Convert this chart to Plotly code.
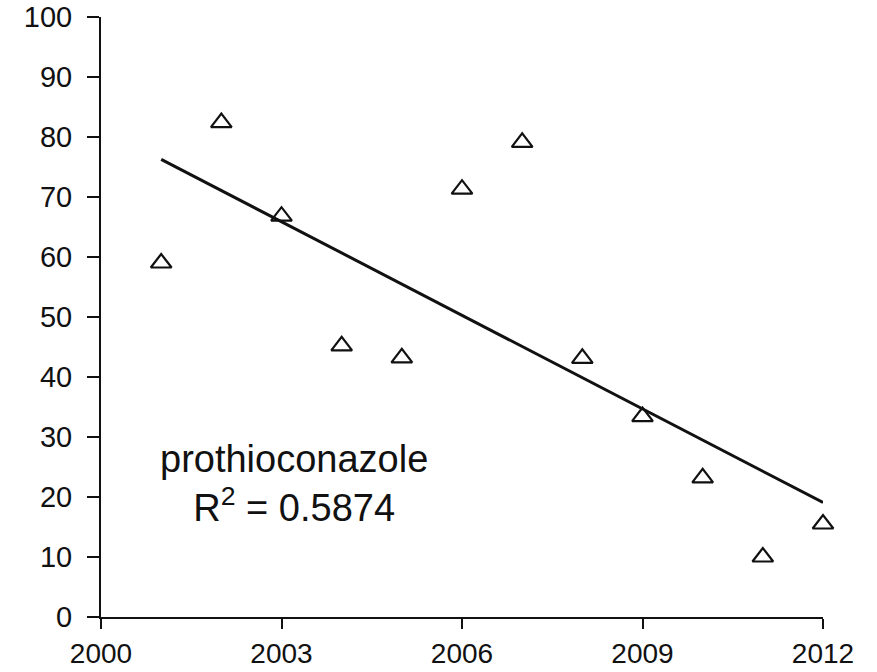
import numpy as np
import plotly.graph_objects as go

years = [2001, 2002, 2003, 2004, 2005, 2006, 2007, 2008, 2009, 2010, 2011, 2012]
values = [59.0, 82.4, 66.8, 45.2, 43.2, 71.3, 79.1, 43.1, 33.4, 23.2, 10.0, 15.5]
x_ticks = [2000, 2003, 2006, 2009, 2012]
y_ticks = list(range(0, 101, 10))
label_name = "prothioconazole"
r2_text = "R<sup>2</sup> = 0.5874"

slope, intercept = np.polyfit(years, values, 1)
fit_x = [years[0], years[-1]]
fit_y = [slope * x + intercept for x in fit_x]

font_family = "Liberation Sans, Arial, sans-serif"

fig = go.Figure()
fig.add_trace(go.Scatter(
    x=fit_x, y=fit_y, mode="lines",
    line=dict(color="#111111", width=3),
    showlegend=False, hoverinfo="skip", cliponaxis=False,
))
fig.add_trace(go.Scatter(
    x=years, y=values, mode="markers",
    marker=dict(symbol="triangle-up-open", size=18, color="#111111",
                line=dict(width=2.2, color="#111111")),
    showlegend=False, cliponaxis=False,
))

fig.add_annotation(x=2003.2, y=22.2, text=label_name + "<br>" + r2_text,
                   showarrow=False, align="center",
                   font=dict(family=font_family, size=38, color="#111111"),
                   xanchor="center", yanchor="middle")

fig.update_layout(
    width=877, height=672,
    margin=dict(l=101, r=54, t=17, b=55, autoexpand=False),
    paper_bgcolor="white", plot_bgcolor="white",
    font=dict(family=font_family, size=29, color="#111111"),
)
fig.update_xaxes(
    range=[2000, 2012], tickvals=x_ticks, ticktext=[str(v) for v in x_ticks],
    showgrid=False, zeroline=False, showline=True, linecolor="#111111", linewidth=2,
    ticks="outside", ticklen=10, tickwidth=2, tickcolor="#111111",
    tickfont=dict(family=font_family, size=28, color="#111111"),
    ticklabelstandoff=0, automargin=False,
)
fig.update_yaxes(
    range=[0, 100], tickvals=y_ticks, ticktext=[str(v) for v in y_ticks],
    showgrid=False, zeroline=False, showline=True, linecolor="#111111", linewidth=2,
    ticks="outside", ticklen=12, tickwidth=2, tickcolor="#111111",
    tickfont=dict(family=font_family, size=29, color="#111111"),
    ticklabelstandoff=9, automargin=False,
)

fig.write_html("out.html")
